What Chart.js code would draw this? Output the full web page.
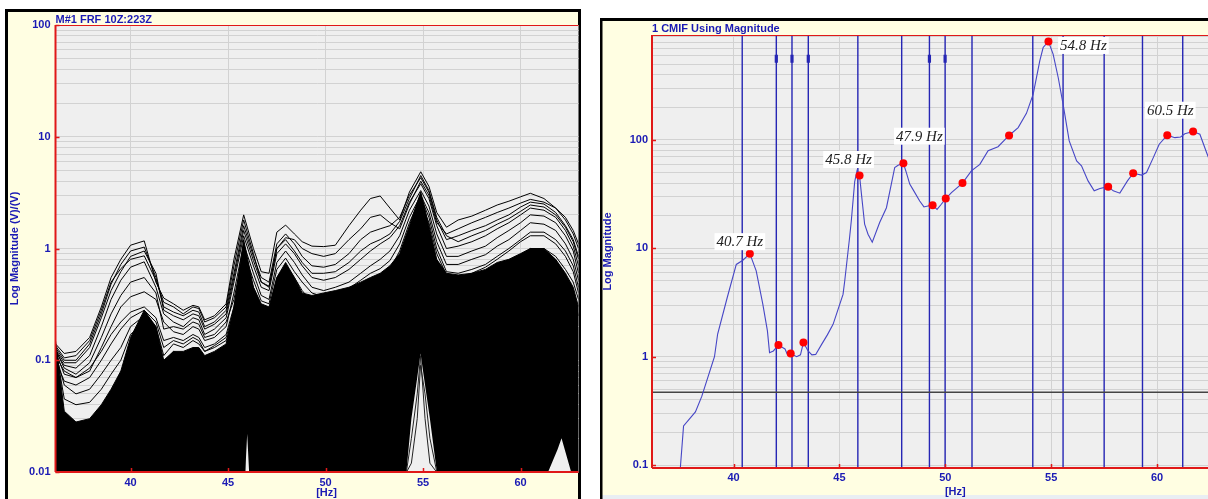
<!DOCTYPE html>
<html>
<head>
<meta charset="utf-8">
<script src="https://cdn.jsdelivr.net/npm/chart.js@4.4.1/dist/chart.umd.min.js"></script>
<style>
  html, body { margin: 0; padding: 0; background: #fff; width: 1208px; height: 499px; overflow: hidden; }
  #frf { position: absolute; left: 0; top: 0; }
  #cmif { position: absolute; left: 600px; top: 0; }
</style>
</head>
<body>
<canvas id="frf" width="583" height="499"></canvas>
<canvas id="cmif" width="624" height="499"></canvas>
<script>
// --- 数据 ---
const xTicks = [40, 45, 50, 55, 60];
const xTickLabels = ['40', '45', '50', '55', '60'];
const frfDecades = [0.01, 0.1, 1, 10, 100];
const frfDecadeLabels = ['0.01', '0.1', '1', '10', '100'];
const cmifDecades = [0.1, 1, 10, 100];
const cmifDecadeLabels = ['0.1', '1', '10', '100'];

// left panel: FRF curves on a shared frequency grid
const frfHz = [36.15, 36.6, 37.2, 37.9, 38.5, 39, 39.5, 40, 40.7, 41.3, 41.7, 42.2, 42.7, 43.2, 43.5, 43.8, 44.3, 44.9, 45.3, 45.8,
  46.3, 46.7, 47.1, 47.5, 47.95, 48.4, 48.8, 49.3, 49.9, 50.5, 51.2, 51.8, 52.3, 52.8, 53.3, 53.8, 54.3, 54.88, 55.3, 55.7,
  56.2, 56.8, 57.5, 58.2, 58.8, 59.4, 60, 60.5, 61.2, 61.8, 62.3, 62.7, 62.97];
const frfDense = [0.15, 0.035, 0.028, 0.03, 0.04, 0.055, 0.08, 0.16, 0.28, 0.2, 0.1, 0.12, 0.12, 0.13, 0.13, 0.11, 0.12, 0.14, 0.3, 1.2,
  0.45, 0.32, 0.3, 0.55, 0.75, 0.55, 0.4, 0.38, 0.4, 0.42, 0.45, 0.5, 0.55, 0.6, 0.7, 0.9, 1.6, 3.2, 1.6, 0.8,
  0.6, 0.58, 0.6, 0.65, 0.75, 0.8, 0.9, 1.0, 1.0, 0.8, 0.6, 0.45, 0.3];
const frf1 = [0.14, 0.115, 0.12, 0.16, 0.3, 0.55, 0.8, 1.07, 1.17, 0.5, 0.36, 0.32, 0.28, 0.31, 0.3, 0.23, 0.25, 0.32, 0.8, 2.0,
  1.0, 0.62, 0.6, 1.4, 1.62, 1.35, 1.15, 1.05, 1.04, 1.07, 1.6, 2.2, 2.8, 2.95, 2.3, 1.8, 3.2, 4.86, 3.6, 2.1,
  1.55, 1.8, 1.95, 2.2, 2.45, 2.65, 2.9, 3.12, 2.8, 2.3, 1.8, 1.35, 1.0];
const frf2 = [0.13, 0.1, 0.1, 0.14, 0.26, 0.48, 0.72, 0.95, 1.03, 0.55, 0.3, 0.27, 0.25, 0.28, 0.27, 0.2, 0.22, 0.28, 0.6, 1.6,
  0.85, 0.55, 0.5, 1.1, 1.35, 1.1, 0.85, 0.7, 0.68, 0.72, 0.9, 1.2, 1.4, 1.5, 1.6, 1.9, 3.0, 4.3, 3.2, 1.8,
  1.2, 1.3, 1.45, 1.6, 1.8, 2.0, 2.35, 2.6, 2.5, 2.1, 1.6, 1.2, 0.85];
const frf3 = [0.12, 0.09, 0.085, 0.11, 0.2, 0.35, 0.52, 0.68, 0.76, 0.45, 0.26, 0.22, 0.2, 0.24, 0.23, 0.17, 0.19, 0.24, 0.5, 1.3,
  0.7, 0.45, 0.42, 0.9, 1.1, 0.9, 0.7, 0.55, 0.52, 0.55, 0.65, 0.8, 0.95, 1.1, 1.25, 1.6, 2.6, 3.8, 2.8, 1.6,
  1.0, 1.05, 1.15, 1.3, 1.5, 1.7, 2.0, 2.3, 2.2, 1.9, 1.45, 1.05, 0.7];
const frf4 = [0.11, 0.08, 0.07, 0.08, 0.13, 0.2, 0.3, 0.37, 0.41, 0.35, 0.22, 0.18, 0.17, 0.2, 0.19, 0.15, 0.16, 0.2, 0.4, 1.1,
  0.6, 0.38, 0.35, 0.75, 0.95, 0.75, 0.58, 0.45, 0.42, 0.45, 0.5, 0.6, 0.7, 0.8, 0.95, 1.3, 2.2, 3.3, 2.4, 1.35,
  0.85, 0.85, 0.95, 1.05, 1.25, 1.45, 1.7, 2.0, 1.95, 1.7, 1.3, 0.95, 0.6];
const frf5 = [0.12, 0.075, 0.07, 0.085, 0.12, 0.17, 0.22, 0.27, 0.3, 0.24, 0.15, 0.16, 0.15, 0.17, 0.16, 0.13, 0.14, 0.17, 0.3, 0.8,
  0.45, 0.3, 0.28, 0.55, 0.7, 0.55, 0.42, 0.33, 0.32, 0.34, 0.38, 0.42, 0.5, 0.55, 0.65, 0.95, 1.7, 2.9, 1.9, 1.0,
  0.62, 0.6, 0.65, 0.72, 0.85, 1.0, 1.2, 1.4, 1.4, 1.2, 0.95, 0.7, 0.45];
const frf6 = [0.115, 0.06, 0.05, 0.055, 0.075, 0.1, 0.13, 0.2, 0.25, 0.2, 0.11, 0.14, 0.13, 0.15, 0.14, 0.12, 0.13, 0.15, 0.25, 0.6,
  0.35, 0.25, 0.24, 0.45, 0.55, 0.45, 0.35, 0.28, 0.27, 0.28, 0.3, 0.35, 0.4, 0.45, 0.5, 0.7, 1.2, 2.2, 1.4, 0.7,
  0.45, 0.42, 0.45, 0.5, 0.6, 0.72, 0.85, 1.0, 1.0, 0.85, 0.65, 0.5, 0.35];
const frf7 = [0.13, 0.045, 0.04, 0.042, 0.055, 0.075, 0.1, 0.17, 0.22, 0.17, 0.095, 0.12, 0.11, 0.12, 0.12, 0.1, 0.11, 0.12, 0.2, 0.5,
  0.3, 0.2, 0.2, 0.35, 0.45, 0.35, 0.28, 0.22, 0.22, 0.24, 0.26, 0.3, 0.35, 0.38, 0.42, 0.6, 1.0, 1.8, 1.1, 0.55,
  0.35, 0.32, 0.35, 0.4, 0.48, 0.58, 0.7, 0.8, 0.8, 0.65, 0.5, 0.38, 0.25];
const frf8 = [0.125, 0.085, 0.075, 0.095, 0.16, 0.26, 0.38, 0.5, 0.55, 0.4, 0.19, 0.2, 0.19, 0.22, 0.21, 0.16, 0.17, 0.22, 0.35, 0.95,
  0.52, 0.34, 0.32, 0.65, 0.82, 0.62, 0.5, 0.4, 0.37, 0.4, 0.44, 0.52, 0.6, 0.66, 0.78, 1.1, 1.9, 3.0, 2.1, 1.15,
  0.72, 0.72, 0.8, 0.88, 1.05, 1.2, 1.45, 1.7, 1.65, 1.45, 1.1, 0.8, 0.52];
const frf9 = [0.135, 0.105, 0.11, 0.15, 0.28, 0.5, 0.66, 0.8, 0.86, 0.52, 0.33, 0.3, 0.26, 0.3, 0.29, 0.22, 0.24, 0.3, 0.7, 1.8,
  0.9, 0.5, 0.45, 1.0, 1.25, 1.2, 1.0, 0.9, 0.85, 0.9, 1.2, 1.5, 1.9, 2.0, 1.7, 1.5, 2.5, 4.0, 3.0, 1.7,
  1.35, 1.5, 1.7, 1.9, 2.1, 2.3, 2.55, 2.75, 2.6, 2.3, 1.9, 1.45, 1.1];
const frf10 = [0.1, 0.065, 0.06, 0.07, 0.1, 0.14, 0.19, 0.24, 0.28, 0.22, 0.13, 0.15, 0.14, 0.16, 0.15, 0.12, 0.135, 0.16, 0.28, 0.7,
  0.42, 0.28, 0.27, 0.5, 0.62, 0.5, 0.38, 0.31, 0.3, 0.33, 0.36, 0.4, 0.46, 0.52, 0.6, 0.85, 1.5, 2.6, 1.7, 0.9,
  0.58, 0.55, 0.6, 0.68, 0.8, 0.95, 1.15, 1.3, 1.3, 1.1, 0.85, 0.62, 0.4];
const frf11 = [0.125, 0.095, 0.095, 0.13, 0.24, 0.42, 0.62, 0.85, 0.95, 0.6, 0.28, 0.25, 0.23, 0.26, 0.25, 0.19, 0.21, 0.26, 0.55, 1.45,
  0.78, 0.5, 0.46, 1.0, 1.2, 0.95, 0.75, 0.6, 0.6, 0.62, 0.75, 0.95, 1.1, 1.2, 1.35, 1.75, 2.8, 4.5, 3.3, 1.9,
  1.3, 1.15, 1.3, 1.45, 1.65, 1.85, 2.15, 2.45, 2.35, 2.0, 1.55, 1.15, 0.8];
// light openings inside the dense mass
const gap55Hz = [54.14, 54.4, 54.7, 54.87, 55.1, 55.35, 55.71];
const gap55Top = [0.0099, 0.03, 0.07, 0.115, 0.06, 0.03, 0.0099];
const gap55LineA = [0.0099, 0.02, 0.05, 0.11, 0.03, 0.012, 0.0099];
const gap55LineB = [0.0099, 0.012, 0.03, 0.09, 0.05, 0.02, 0.0099];
const gap46Hz = [45.88, 45.98, 46.08];
const gap46Top = [0.0099, 0.022, 0.0099];
const gap62Hz = [61.4, 61.9, 62.1, 62.6];
const gap62Top = [0.0099, 0.016, 0.02, 0.0099];

// right panel: CMIF
const cmifHz = [37.48, 37.64, 38.2, 38.5, 39.1, 39.25, 39.7, 40.13, 40.44, 40.77, 41.07, 41.38, 41.6, 41.7, 41.88, 42.12, 42.43, 42.55,
  42.7, 42.98, 43.16, 43.3, 43.52, 43.7, 43.88, 44.16, 44.43, 44.7, 45.17, 45.25, 45.48, 45.56, 45.72, 45.83, 45.95, 46.03,
  46.19, 46.35, 46.55, 46.9, 47.22, 47.45, 47.61, 47.77, 48.02, 48.16, 48.32, 48.47, 48.79, 48.99, 49.18, 49.4, 49.61, 49.81,
  50.02, 50.29, 50.81, 51.23, 51.63, 52.02, 52.49, 53.01, 53.44, 53.83, 54.15, 54.46, 54.62, 54.87, 55.09, 55.33, 55.56, 55.85,
  56.2, 56.43, 56.74, 57.03, 57.3, 57.69, 57.93, 58.24, 58.6, 58.87, 59.27, 59.5, 59.82, 60.1, 60.48, 60.84, 61.11, 61.31,
  61.7, 62.02, 62.34, 62.7, 62.97];
const cmifMag = [0.09, 0.23, 0.31, 0.43, 1.0, 1.62, 3.5, 7.1, 7.76, 8.93, 6.2, 3.07, 1.73, 1.09, 1.13, 1.28, 1.18, 1.04,
  1.07, 1.0, 1.04, 1.35, 1.13, 1.04, 1.05, 1.3, 1.59, 1.99, 3.76, 5.0, 12.6, 17.9, 41, 52, 47, 33,
  16.7, 13.5, 11.4, 17.3, 23.7, 39.2, 55.6, 58.3, 61, 50, 39.2, 35, 27.3, 24.1, 24.6, 25, 22.9, 25.5,
  28.8, 32.7, 40, 51.9, 59.5, 79.5, 86.6, 110, 130, 176, 265, 537, 713, 811, 620, 377, 214, 98,
  64, 57.7, 41.9, 33.9, 35.6, 37.1, 33.9, 32.3, 41.9, 49.3, 47.4, 50, 68.7, 91.3, 110.6, 105, 106.6, 114,
  119.8, 113, 76.3, 50, 40];
const peakHz = [40.77, 42.12, 42.7, 43.3, 45.95, 48.02, 49.4, 50.02, 50.81, 53.01, 54.87, 57.69, 58.87, 60.48, 61.7];
const peakMag = [8.93, 1.28, 1.07, 1.35, 47, 61, 25, 28.8, 40, 110, 811, 37.1, 49.3, 110.6, 119.8];
const peakLabelIdx = [0, 4, 5, 10, 13];
const peakLabelText = ['40.7 Hz', '45.8 Hz', '47.9 Hz', '54.8 Hz', '60.5 Hz'];
const markerHz = [40.41, 42.02, 42.76, 43.53, 45.87, 47.94, 49.25, 49.99, 51.26, 54.13, 55.56, 57.5, 59.31, 61.21];
const flaggedHz = [42.02, 42.76, 43.53, 49.25, 49.99];
const flagRange = [515, 610];
const thresholdMag = 0.47;

// --- 样式 ---
const FONT = 'Liberation Sans';
const BLUE_TEXT = '#1a1ab4';
const CREAM = '#fffee2';
const PLOT_BG = '#efefef';
const GRID = '#d2d2d2';
const AXIS_RED = '#e01818';
const labelOffset = [[-10, -12], [-11, -16], [16, -27], [35, 4], [3, -25]];

const pts = (xs, ys) => xs.map((x, i) => ({ x, y: ys[i] }));

const logTicks = (decades, min, max) => {
  const out = [];
  decades.forEach(d => {
    for (let m = 1; m <= 9; m++) {
      const v = m * d;
      if (v >= min * 0.9999 && v <= max * 1.0001) out.push({ value: v, major: m === 1 });
    }
  });
  return out;
};
const decadeLabel = (decades, labels) => v => {
  const i = decades.findIndex(d => Math.abs(v / d - 1) < 1e-6);
  return i < 0 ? '' : labels[i];
};

const tickFont = { family: FONT, size: 11, weight: 'bold' };

const makeScales = (cfg) => ({
  x: {
    type: 'linear', min: 36.15, max: 62.97,
    afterBuildTicks: s => { s.ticks = xTicks.map(v => ({ value: v })); },
    afterFit: s => { s.height = cfg.xHeight; },
    ticks: { autoSkip: false, maxRotation: 0, padding: cfg.xPad, color: BLUE_TEXT, font: tickFont,
      callback: (v, i) => xTickLabels[i] ?? '' },
    grid: { color: GRID, lineWidth: 1, drawTicks: false },
    border: { display: false }
  },
  y: {
    type: 'logarithmic', min: cfg.yMin, max: cfg.yMax,
    afterBuildTicks: s => { s.ticks = logTicks(cfg.decades, cfg.yMin, cfg.yMax); },
    afterFit: s => { s.width = cfg.yWidth; },
    ticks: { autoSkip: false, padding: cfg.yPad, color: BLUE_TEXT, font: tickFont,
      callback: decadeLabel(cfg.decades, cfg.decadeLabels) },
    grid: { color: GRID, lineWidth: 1, drawTicks: false },
    border: { display: false },
    title: { display: true, text: cfg.yTitle, color: BLUE_TEXT, font: tickFont, padding: { top: cfg.yTitlePad, bottom: 0 } }
  }
});

const baseOptions = (cfg) => ({
  responsive: false, animation: false, events: [], devicePixelRatio: 1,
  layout: { padding: cfg.padding },
  plugins: { legend: { display: false }, tooltip: { enabled: false } },
  elements: { line: { tension: 0 }, point: { radius: 0 } },
  scales: makeScales(cfg)
});

// panel frame, plot background, red axes, captions
const panelPlugin = (cfg) => ({
  id: 'panel',
  beforeDraw(chart) {
    const { ctx, chartArea: a, width, height } = chart;
    ctx.save();
    ctx.fillStyle = '#fff';
    ctx.fillRect(0, 0, width, height);
    ctx.fillStyle = CREAM;
    ctx.fillRect(cfg.frame[0], cfg.frame[1], cfg.frame[2], height);
    if (cfg.bottomStrip) {
      ctx.fillStyle = '#e9eef3';
      ctx.fillRect(0, cfg.bottomStrip, width, height - cfg.bottomStrip);
    }
    ctx.strokeStyle = '#000';
    ctx.lineWidth = 3;
    ctx.strokeRect(cfg.frame[0] - 0.5, cfg.frame[1] - 0.5, cfg.frame[2], height + 20);
    ctx.fillStyle = PLOT_BG;
    ctx.fillRect(a.left, a.top, a.right - a.left, a.bottom - a.top);
    ctx.restore();
  },
  afterDraw(chart) {
    const { ctx, chartArea: a, scales: { x, y } } = chart;
    ctx.save();
    ctx.strokeStyle = AXIS_RED;
    ctx.lineWidth = 1;
    ctx.beginPath();
    ctx.moveTo(a.left, a.top + 0.5); ctx.lineTo(a.right, a.top + 0.5);
    ctx.stroke();
    ctx.lineWidth = 2;
    ctx.beginPath();
    ctx.moveTo(a.left, a.top); ctx.lineTo(a.left, a.bottom);
    ctx.moveTo(a.left, a.bottom); ctx.lineTo(a.right, a.bottom);
    ctx.stroke();
    ctx.lineWidth = 1.5;
    ctx.beginPath();
    xTicks.forEach(v => { const px = Math.round(x.getPixelForValue(v)) + 0.5; ctx.moveTo(px, a.bottom); ctx.lineTo(px, a.bottom - 4); });
    cfg.decades.forEach(v => { const py = Math.round(y.getPixelForValue(v)) + 0.5; ctx.moveTo(a.left, py); ctx.lineTo(a.left + 4, py); });
    ctx.stroke();
    ctx.fillStyle = BLUE_TEXT;
    ctx.font = `bold 11px "${FONT}"`;
    ctx.textAlign = 'left';
    ctx.textBaseline = 'alphabetic';
    ctx.fillText(cfg.title, a.left, cfg.titleY);
    ctx.textAlign = 'center';
    ctx.textBaseline = 'middle';
    ctx.fillText('[Hz]', x.getPixelForValue(50) + cfg.hzDx, cfg.hzY);
    ctx.restore();
  }
});

// --- 左图：FRF ---
const frfLine = ys => ({ data: pts(frfHz, ys), borderColor: '#000', borderWidth: 1, pointRadius: 0, fill: false, order: 0 });
const openingSet = (xs, ys) => ({ data: pts(xs, ys), borderWidth: 0, backgroundColor: PLOT_BG, pointRadius: 0, fill: 'start', order: 20 });

const frfCfg = {
  padding: { left: 0, top: 25, right: 4.5, bottom: 0 },
  xHeight: 27, xPad: 4, yWidth: 55.5, yPad: 5, yMin: 0.01, yMax: 100,
  decades: frfDecades, decadeLabels: frfDecadeLabels,
  yTitle: 'Log Magnitude (V)/(V)', yTitlePad: 8
};

new Chart(document.getElementById('frf'), {
  type: 'line',
  data: {
    datasets: [
      { data: pts(frfHz, frfDense), borderColor: '#000', borderWidth: 1, backgroundColor: '#000', pointRadius: 0, fill: 'start', order: 30 },
      openingSet(gap55Hz, gap55Top),
      openingSet(gap46Hz, gap46Top),
      openingSet(gap62Hz, gap62Top),
      { data: pts(gap55Hz, gap55LineA), borderColor: '#222', borderWidth: 1, pointRadius: 0, fill: false, order: 10 },
      { data: pts(gap55Hz, gap55LineB), borderColor: '#222', borderWidth: 1, pointRadius: 0, fill: false, order: 10 },
      ...[frf1, frf2, frf3, frf4, frf5, frf6, frf7, frf8, frf9, frf10, frf11].map(frfLine)
    ]
  },
  options: baseOptions(frfCfg),
  plugins: [panelPlugin({ ...frfCfg, frame: [7, 11, 573], title: 'M#1 FRF 10Z:223Z', titleY: 22.5, hzDx: 1, hzY: 493 })]
});

// --- 右图：CMIF ---
const cmifCfg = {
  padding: { left: 0, top: 35, right: 4, bottom: 0 },
  xHeight: 31, xPad: 3, yWidth: 52, yPad: 4, yMin: 0.094, yMax: 930,
  decades: cmifDecades, decadeLabels: cmifDecadeLabels,
  yTitle: 'Log Magnitude', yTitlePad: 1.5
};

const cmifMarks = {
  id: 'cmifMarks',
  beforeDatasetsDraw(chart) {
    const { ctx, chartArea: a, scales: { x, y } } = chart;
    ctx.save();
    ctx.beginPath();
    ctx.rect(a.left, a.top, a.right - a.left, a.bottom - a.top);
    ctx.clip();
    ctx.strokeStyle = '#2626b4';
    ctx.lineWidth = 1.4;
    ctx.beginPath();
    markerHz.forEach(v => { const px = x.getPixelForValue(v); ctx.moveTo(px, a.top); ctx.lineTo(px, a.bottom); });
    ctx.stroke();
    ctx.lineWidth = 3.2;
    ctx.beginPath();
    flaggedHz.forEach(v => {
      const px = x.getPixelForValue(v);
      ctx.moveTo(px, y.getPixelForValue(flagRange[1])); ctx.lineTo(px, y.getPixelForValue(flagRange[0]));
    });
    ctx.stroke();
    ctx.strokeStyle = '#444';
    ctx.lineWidth = 1.6;
    ctx.beginPath();
    const ty = y.getPixelForValue(thresholdMag);
    ctx.moveTo(a.left, ty); ctx.lineTo(a.right, ty);
    ctx.stroke();
    ctx.restore();
  },
  afterDatasetsDraw(chart) {
    const { ctx, scales: { x, y } } = chart;
    ctx.save();
    ctx.font = 'italic 15px "Liberation Serif"';
    ctx.textAlign = 'center';
    ctx.textBaseline = 'middle';
    peakLabelIdx.forEach((k, i) => {
      const cx = x.getPixelForValue(peakHz[k]) + labelOffset[i][0];
      const cy = y.getPixelForValue(peakMag[k]) + labelOffset[i][1];
      const w = ctx.measureText(peakLabelText[i]).width + 4;
      ctx.fillStyle = '#fff';
      ctx.fillRect(cx - w / 2, cy - 8.5, w, 17);
      ctx.fillStyle = '#222';
      ctx.fillText(peakLabelText[i], cx, cy + 0.5);
    });
    ctx.restore();
  }
};

new Chart(document.getElementById('cmif'), {
  type: 'line',
  data: {
    datasets: [
      { data: pts(peakHz, peakMag), showLine: false, pointRadius: 4, pointBackgroundColor: '#ff0000', pointBorderWidth: 0, order: 0 },
      { data: pts(cmifHz, cmifMag), borderColor: '#4646c6', borderWidth: 1.1, pointRadius: 0, fill: false, order: 5 }
    ]
  },
  options: baseOptions(cmifCfg),
  plugins: [panelPlugin({ ...cmifCfg, frame: [1.5, 20, 800], bottomStrip: 495, title: '1 CMIF Using Magnitude', titleY: 32, hzDx: 10, hzY: 492 }), cmifMarks]
});
</script>
</body>
</html>
